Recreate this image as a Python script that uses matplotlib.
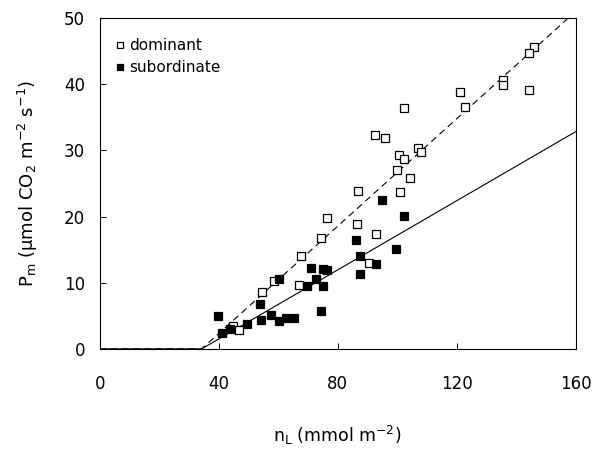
import numpy as np
import matplotlib
matplotlib.use("Agg")
import matplotlib.pyplot as plt

plt.rcParams['font.family'] = ['DejaVu Sans']
plt.rcParams['mathtext.fontset'] = 'dejavusans'

# dominant (open squares)
dom_x = [146.2, 144.2, 135.6, 135.6, 144.2, 121.0, 122.8, 102.2, 92.6, 95.9,
         107.2, 108.1, 100.5, 102.3, 100.0, 104.2, 86.9, 100.9, 76.6, 86.5,
         93.0, 74.5, 67.6, 90.4, 58.7, 67.1, 54.6, 44.8, 46.7]
dom_y = [45.6, 44.7, 40.7, 39.8, 39.1, 38.8, 36.6, 36.4, 32.3, 31.9,
         30.4, 29.8, 29.3, 28.7, 27.0, 25.8, 23.9, 23.7, 19.8, 18.8,
         17.4, 16.8, 14.0, 12.9, 10.2, 9.7, 8.6, 3.4, 2.9]

# subordinate (filled squares)
sub_x = [95.0, 102.3, 86.2, 99.7, 87.6, 70.9, 75.0, 76.4, 93.0, 87.6,
         60.2, 72.7, 69.6, 75.0, 74.4, 53.8, 39.7, 57.5, 54.1, 60.4,
         62.7, 65.5, 49.5, 43.7, 41.1]
sub_y = [22.5, 20.1, 16.4, 15.1, 14.0, 12.2, 12.1, 11.9, 12.8, 11.3,
         10.6, 10.5, 9.5, 9.5, 5.7, 6.8, 4.9, 5.1, 4.4, 4.2,
         4.6, 4.7, 3.8, 3.0, 2.4]

# fitted lines: y = slope * (x - x0), zero below x0
dom_fit = (0.4055, 34.3)
sub_fit = (0.261, 34.3)

fig = plt.figure(figsize=(5.97, 4.49), dpi=100)
ax = fig.add_axes([0.167, 0.223, 0.797, 0.737])

xl = np.linspace(0, 160, 321)
ax.plot(xl, np.maximum(0, dom_fit[0] * (xl - dom_fit[1])), color='black',
        lw=0.8, ls=(0, (6, 4)))
ax.plot(xl, np.maximum(0, sub_fit[0] * (xl - sub_fit[1])), color='black', lw=0.8)

ax.plot(dom_x, dom_y, 's', ms=5.2, mfc='white', mec='black', mew=0.9,
        label='dominant', clip_on=False)
ax.plot(sub_x, sub_y, 's', ms=5.2, mfc='black', mec='black', mew=0.9,
        label='subordinate', clip_on=False)

ax.set_xlim(0, 160)
ax.set_ylim(0, 50)
ax.set_xticks([0, 40, 80, 120, 160])
ax.set_yticks([0, 10, 20, 30, 40, 50])
ax.tick_params(direction='in', length=4, width=0.7, labelsize=12)
ax.tick_params(axis='x', pad=19)
ax.tick_params(axis='y', pad=10.5)
for s in ax.spines.values():
    s.set_linewidth(0.8)

ax.set_xlabel(r'n$_\mathregular{L}$ (mmol m$^\mathregular{-2}$)', fontsize=12.5, labelpad=22)
ax.set_ylabel(r'P$_\mathregular{m}$ ($\mathregular{\mu}$mol CO$_\mathregular{2}$ m$^\mathregular{-2}$ s$^\mathregular{-1}$)',
              fontsize=13, labelpad=17)

leg = ax.legend(loc='upper left', bbox_to_anchor=(0.0, 0.98), frameon=False,
                fontsize=11, handletextpad=0.25, borderaxespad=0.5,
                labelspacing=0.45, handlelength=0.8, markerscale=0.8,
                borderpad=0.4)

fig.savefig('out.png', dpi=100)
